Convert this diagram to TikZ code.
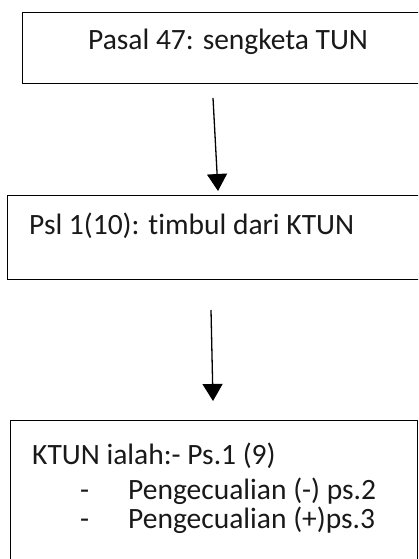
\documentclass[tikz,border=0pt]{standalone}
\usepackage{fontspec}
\setmainfont{Carlito}[Ligatures={NoCommon}]
\usetikzlibrary{arrows.meta}
\tikzset{
  box/.style={draw=black, line width=1.4pt, rectangle, inner sep=0pt, anchor=north west},
  txt/.style={anchor=base west, inner sep=0pt, font=\fontsize{29.5}{34}\selectfont, text=black!90},
  flow/.style={draw=black, line width=1.3pt, -{Triangle[width=20pt,length=17pt]}}
}
\begin{document}
\begin{tikzpicture}[x=1pt,y=-1pt]
  \useasboundingbox (0,0) rectangle (418,559);
  \fill[white] (0,0) rectangle (418,559);
  \clip (0,0) rectangle (418,559);

  % boxes
  \node[box, minimum width=430pt, minimum height=71pt] (b1) at (22,12) {};
  \node[box, minimum width=440pt, minimum height=84pt] (b2) at (7,195) {};
  \node[box, minimum width=407pt, minimum height=170pt] (b3) at (10,420) {};

  % texts
  \node[txt] (t1) at (88,50) {Pasal 47: sengketa TUN};
  \node[txt] (t2) at (29,234) {Psl 1(10): timbul dari KTUN};
  \node[txt] (t3) at (32,464) {KTUN ialah:- Ps.1 (9)};
  \node[txt] (d1) at (80,499) {-};
  \node[txt] (t4) at (128,499) {Pengecualian (-) ps.2};
  \node[txt] (d2) at (80,528) {-};
  \node[txt] (t5) at (128,528) {Pengecualian (+)ps.3};

  % arrows
  \coordinate (a1s) at (213,98);
  \coordinate (a1e) at (218,191);
  \coordinate (a2s) at (211,310);
  \coordinate (a2e) at (213,401);
  \draw[flow] (a1s) -- (a1e);
  \draw[flow] (a2s) -- (a2e);
\end{tikzpicture}
\end{document}
